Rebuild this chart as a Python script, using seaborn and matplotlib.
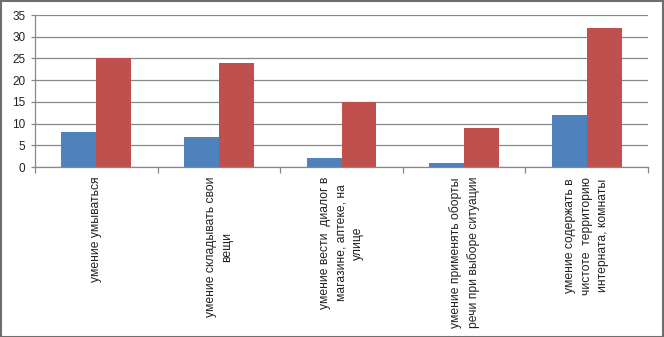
import matplotlib
matplotlib.use("Agg")
import matplotlib.pyplot as plt
from matplotlib.patches import Rectangle
import seaborn as sns
import pandas as pd
import numpy as np

categories = [
    "умение умываться",
    "умение складывать свои\nвещи",
    "умение вести  диалог в\nмагазине, аптеке, на\nулице",
    "умение применять оборты\nречи при выборе ситуации",
    "умение содержать в\nчистоте  территорию\nинтерната, комнаты",
]
series_names = ["Ряд 1", "Ряд 2"]
values_1 = [8, 7, 2, 1, 12]
values_2 = [25, 24, 15, 9, 32]
colors = ["#4F81BD", "#C0504D"]
y_ticks = [0, 5, 10, 15, 20, 25, 30, 35]

df = pd.DataFrame({
    "category": categories * 2,
    "series": [series_names[0]] * len(categories) + [series_names[1]] * len(categories),
    "value": values_1 + values_2,
})

sns.set_theme(style="white")
plt.rcParams["font.family"] = ["Liberation Sans", "DejaVu Sans"]

fig = plt.figure(figsize=(6.64, 3.37), dpi=100)
ax = fig.add_axes([35 / 664, 1 - 167 / 337, (648 - 35) / 664, (167 - 15) / 337])

sns.barplot(data=df, x="category", y="value", hue="series", order=categories,
            hue_order=series_names, palette=colors, width=0.57, saturation=1,
            linewidth=0, legend=False, ax=ax)

ax.set_ylim(0, 35)
ax.set_xlim(-0.5, len(categories) - 0.5)
ax.set_yticks(y_ticks)
ax.set_yticklabels([str(t) for t in y_ticks], fontsize=8.5, color="#222222")
ax.grid(axis="y", color="#888888", linewidth=0.9)
ax.set_axisbelow(True)
ax.set_xlabel("")
ax.set_ylabel("")

for side in ["top", "right"]:
    ax.spines[side].set_visible(False)
for side in ["left", "bottom"]:
    ax.spines[side].set_color("#888888")
    ax.spines[side].set_linewidth(0.9)

ax.tick_params(axis="y", which="major", length=3, width=0.9, color="#888888", pad=4, left=True)
ax.set_xticks(range(len(categories)))
ax.set_xticklabels(categories, rotation=90, fontsize=8.7, color="#222222",
                   ha="center", va="top", multialignment="center", linespacing=1.5)
ax.tick_params(axis="x", which="major", length=0, pad=7)
ax.set_xticks(np.arange(-0.5, len(categories)), minor=True)
ax.tick_params(axis="x", which="minor", length=4, width=0.9, color="#888888", bottom=True)

# outer frame around the whole picture
fig.patches.append(Rectangle((0.5 / 664, 0.5 / 337), 1 - 1.5 / 664, 1 - 1.5 / 337,
                             transform=fig.transFigure, fill=False,
                             edgecolor="#6e6e6e", linewidth=1.5))

fig.savefig("out.png", dpi=100)
